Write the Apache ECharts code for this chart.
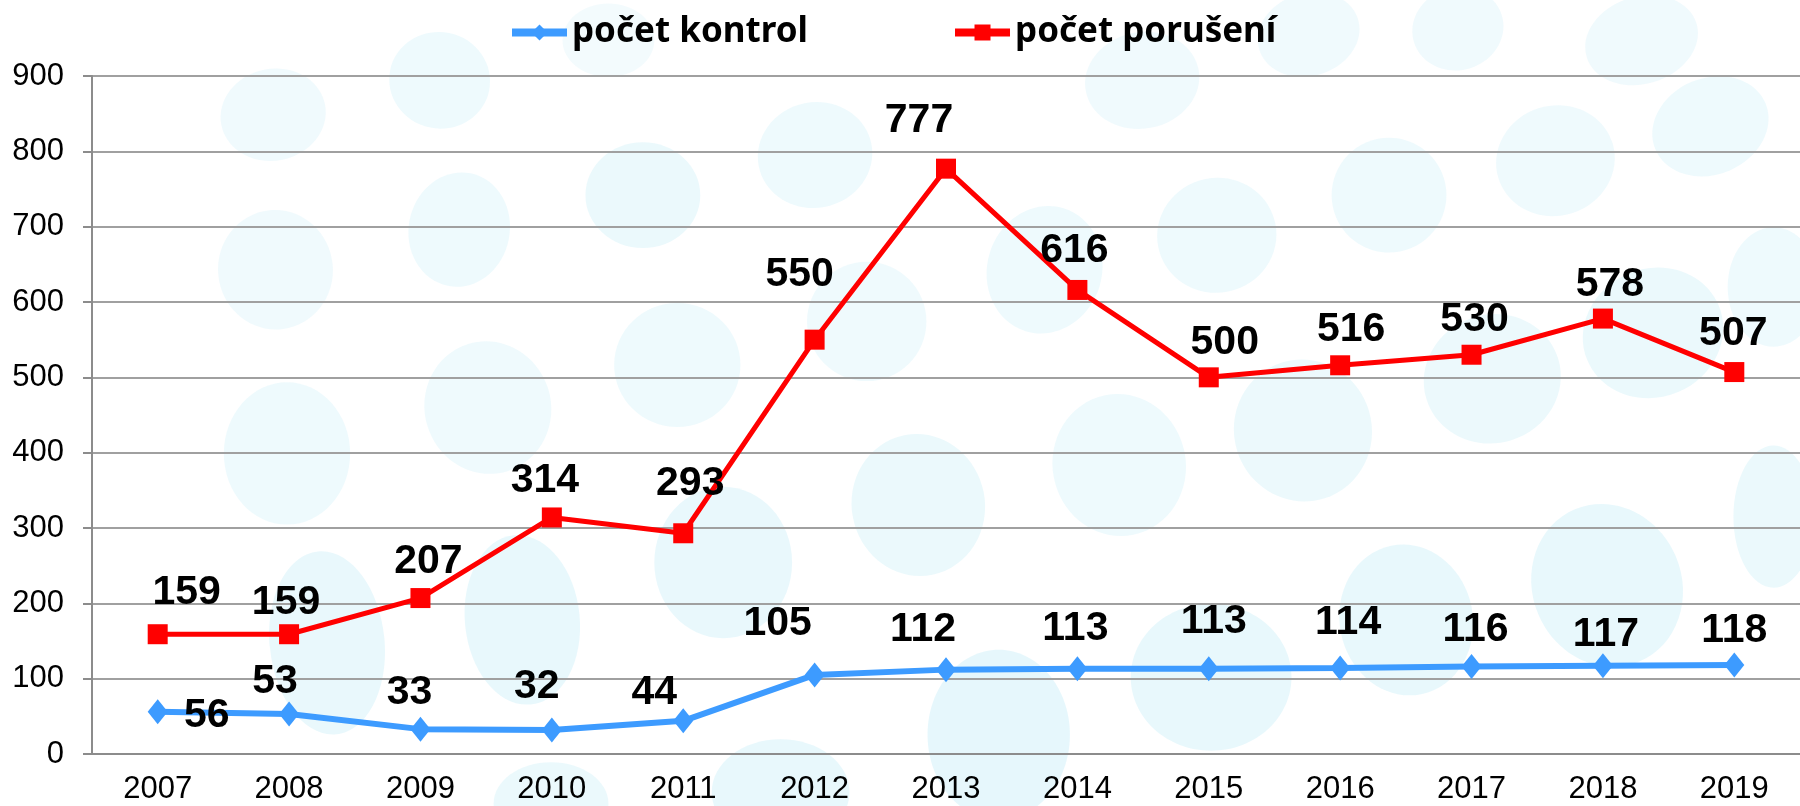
<!DOCTYPE html>
<html>
<head>
<meta charset="utf-8">
<script src="https://cdn.jsdelivr.net/npm/echarts@6/dist/echarts.min.js"></script>
<style>
  html, body { margin: 0; padding: 0; background: #fff; }
  #chart { width: 1800px; height: 806px; }
</style>
</head>
<body>
<div id="chart"></div>
<script>
  // data
  const years = ['2007', '2008', '2009', '2010', '2011', '2012', '2013', '2014', '2015', '2016', '2017', '2018', '2019'];
  const pocetKontrol = [56, 53, 33, 32, 44, 105, 112, 113, 113, 114, 116, 117, 118];
  const pocetPoruseni = [159, 159, 207, 314, 293, 550, 777, 616, 500, 516, 530, 578, 507];

  // label offsets (px, from point centre)
  const kontrolOffsets = [[49, 4], [-14, -32], [-11, -36], [-15, -43], [-29, -28], [-37, -51], [-23, -40], [-2, -40], [5, -47], [8, -45], [4, -37], [3, -31], [0, -34]];
  const poruseniOffsets = [[29, -42], [-3, -32], [8, -36], [-7, -37], [7, -50], [-15, -65], [-27, -48], [-3, -39], [16, -35], [11, -36], [3, -35], [7, -34], [-1, -38]];

  // background bubbles (decoration only), in shrunk-picture units: cx, cy, rx, ry, rotation, opacity
  const bubbles = [
    [238, 100, 46, 40, 0.2, 0.5], [383, 70, 44, 42, -0.2, 0.6], [530, 35, 40, 32, 0, 0.4], [240, 235, 50, 52, 0.1, 0.5],
    [400, 200, 44, 50, -0.2, 0.6], [560, 170, 50, 46, 0, 0.7], [710, 135, 50, 46, 0.2, 0.6], [590, 318, 55, 54, 0, 0.6],
    [425, 355, 55, 58, 0.3, 0.55], [250, 395, 55, 62, 0, 0.6], [455, 540, 50, 74, 0.1, 0.8], [630, 490, 60, 66, 0, 0.75],
    [800, 440, 58, 62, 0.2, 0.7], [755, 280, 52, 52, 0, 0.55], [910, 235, 50, 56, -0.3, 0.6], [1060, 205, 52, 50, 0.2, 0.6],
    [1210, 170, 50, 50, 0.4, 0.6], [1355, 140, 52, 48, 0.3, 0.55], [1490, 110, 52, 42, 0.4, 0.6], [995, 70, 50, 42, 0.2, 0.5],
    [1140, 30, 45, 36, 0.3, 0.5], [975, 405, 58, 62, 0.2, 0.6], [1135, 375, 60, 62, 0.3, 0.65], [1300, 330, 60, 56, 0.3, 0.65],
    [1440, 290, 62, 56, 0.4, 0.7], [1545, 250, 40, 52, 0, 0.6], [1545, 450, 35, 62, 0, 0.7], [1400, 510, 65, 72, 0.4, 0.8],
    [1225, 540, 58, 66, 0.2, 0.8], [1055, 590, 70, 64, 0, 0.8], [870, 640, 62, 74, 0, 0.85], [680, 690, 60, 46, 0, 0.8],
    [480, 700, 50, 36, 0, 0.7], [285, 560, 50, 80, 0.1, 0.75], [1430, 35, 50, 38, 0.3, 0.5], [1270, 25, 40, 36, 0.3, 0.5]
  ];

  const k = 1800 / 1568;
  const chart = echarts.init(document.getElementById('chart'));

  const labelFont = {
    color: '#000',
    fontSize: 41,
    fontWeight: 'bold',
    fontFamily: '"Liberation Sans", Arial, sans-serif'
  };

  const option = {
    backgroundColor: '#fff',
    animation: false,
    graphic: bubbles.map(b => ({
      type: 'ellipse',
      z: -10,
      silent: true,
      x: b[0] * k,
      y: b[1] * k,
      rotation: b[4],
      shape: { cx: 0, cy: 0, rx: b[2] * k, ry: b[3] * k },
      style: { fill: '#e2f6fb', opacity: b[5] }
    })),
    legend: {
      top: 10,
      left: 503,
      itemWidth: 55,
      itemHeight: 20,
      itemGap: 143,
      lineStyle: { width: 8 },
      textStyle: {
        color: '#000',
        fontSize: 35,
        fontWeight: 'bold',
        fontFamily: '"Noto Sans", "Open Sans", sans-serif'
      },
      data: ['počet kontrol', 'počet porušení']
    },
    grid: {
      left: 92,
      right: -11,
      top: 76,
      bottom: 52
    },
    xAxis: {
      type: 'category',
      data: years,
      boundaryGap: true,
      axisLine: { lineStyle: { color: '#8c8c8c', width: 2 } },
      axisTick: { show: false },
      axisLabel: {
        color: '#000',
        fontSize: 31,
        margin: 20,
        fontFamily: '"Liberation Sans", Arial, sans-serif'
      }
    },
    yAxis: {
      type: 'value',
      min: 0,
      max: 900,
      interval: 100,
      axisLine: { show: true, lineStyle: { color: '#8c8c8c', width: 2 } },
      axisTick: { show: true, length: 9, lineStyle: { color: '#8c8c8c', width: 2 } },
      axisLabel: {
        color: '#000',
        fontSize: 31,
        margin: 28,
        fontFamily: '"Liberation Sans", Arial, sans-serif'
      },
      splitLine: { lineStyle: { color: '#a0a0a0', width: 2 } }
    },
    series: [
      {
        name: 'počet kontrol',
        type: 'line',
        data: pocetKontrol.map((v, i) => ({
          value: v,
          label: { offset: kontrolOffsets[i] }
        })),
        symbol: 'diamond',
        symbolSize: [20, 25],
        color: '#3d9bff',
        lineStyle: { color: '#3d9bff', width: 6 },
        itemStyle: { color: '#3d9bff' },
        label: Object.assign({ show: true, position: 'inside' }, labelFont),
        z: 3
      },
      {
        name: 'počet porušení',
        type: 'line',
        data: pocetPoruseni.map((v, i) => ({
          value: v,
          label: { offset: poruseniOffsets[i] }
        })),
        symbol: 'rect',
        symbolSize: 20,
        color: '#ff0000',
        lineStyle: { color: '#ff0000', width: 5 },
        itemStyle: { color: '#ff0000' },
        label: Object.assign({ show: true, position: 'inside' }, labelFont),
        z: 4
      }
    ]
  };

  chart.setOption(option);
</script>
</body>
</html>
